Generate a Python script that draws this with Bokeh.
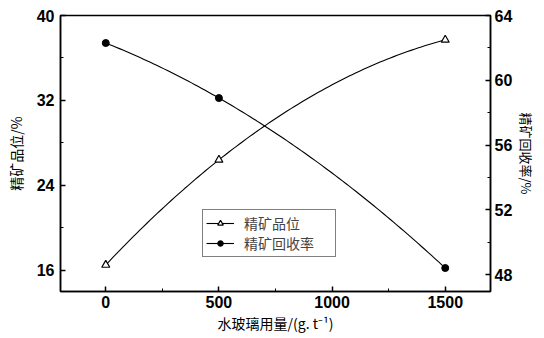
import numpy as np
from bokeh.plotting import figure
from bokeh.models import Range1d, LinearAxis, FixedTicker, Legend, LegendItem
from bokeh.embed import file_html
from bokeh.resources import INLINE

dosage = [0, 500, 1500]
grade = [16.5, 26.4, 37.7]
recovery = [62.3, 58.9, 48.4]
x_ticks = [0, 500, 1000, 1500]
left_ticks = [16, 24, 32, 40]
right_ticks = [48, 52, 56, 60, 64]

def smooth(xs, ys, n=100):
    # quadratic curve through the three points (drawing of spline connector)
    c = np.polyfit(xs, ys, 2)
    xx = np.linspace(min(xs), max(xs), n)
    return xx, np.polyval(c, xx)

p = figure(frame_width=430, frame_height=276, output_backend="svg", toolbar_location=None,
           x_range=Range1d(-200, 1700), y_range=Range1d(14, 40),
           min_border_left=60, min_border_right=40, min_border_top=15, min_border_bottom=40)
p.extra_y_ranges = {"rec": Range1d(46.95, 64)}
p.grid.visible = False
p.outline_line_color = "black"
p.outline_line_width = 1.5
p.background_fill_color = "white"
p.border_fill_color = "white"

ax_font = "Liberation Sans"
cjk = "Noto Sans CJK SC"

def style(ax, ticks, minor):
    ax.ticker = FixedTicker(ticks=ticks, minor_ticks=minor)
    ax.major_tick_in = 5
    ax.major_tick_out = 0
    ax.minor_tick_in = 3
    ax.minor_tick_out = 0
    ax.axis_line_width = 1.5
    ax.major_tick_line_width = 1.5
    ax.minor_tick_line_width = 1
    ax.major_label_text_font = ax_font
    ax.major_label_text_font_size = "16px"
    ax.major_label_text_font_style = "bold"
    ax.major_label_text_color = "black"
    ax.axis_label_text_font = cjk
    ax.axis_label_text_font_size = "14px"
    ax.axis_label_text_font_style = "normal"
    ax.axis_label_text_color = "black"

style(p.xaxis[0], x_ticks, [250, 750, 1250])
p.xaxis[0].axis_label = "水玻璃用量/(g. t⁻¹)"
p.xaxis[0].axis_label_text_font_size = "14px"
p.xaxis[0].major_label_standoff = 4
p.xaxis[0].axis_label_standoff = 2

style(p.yaxis[0], left_ticks, [20, 28, 36])
p.yaxis[0].axis_label = "精矿品位/%"
p.yaxis[0].major_label_standoff = 6
p.yaxis[0].axis_label_standoff = 8

rax = LinearAxis(y_range_name="rec")
style(rax, right_ticks, [50, 54, 58, 62])
rax.axis_label = "精矿回收率/%"
rax.axis_label_text_font_size = "13px"
rax.major_label_standoff = 4
rax.axis_label_standoff = 2
p.add_layout(rax, "right")

gx, gy = smooth(dosage, grade)
rx, ry = smooth(dosage, recovery)
l1 = p.line(gx, gy, line_color="black", line_width=1.1)
s1 = p.scatter(dosage, grade, marker="triangle", size=8, fill_color="white", line_color="black", line_width=1.2)
l2 = p.line(rx, ry, line_color="black", line_width=1.1, y_range_name="rec")
s2 = p.scatter(dosage, recovery, marker="circle", size=7, fill_color="black", line_color="black", y_range_name="rec")

legend = Legend(items=[LegendItem(label="精矿品位", renderers=[l1, s1]),
                       LegendItem(label="精矿回收率", renderers=[l2, s2])],
                location=(142, 34), label_text_font=cjk, label_text_font_size="14px",
                border_line_color="black", border_line_width=1.2, glyph_width=28,
                glyph_height=14, spacing=0, padding=3, margin=0, label_standoff=10,
                label_height=14, label_width=88, background_fill_alpha=1)
p.add_layout(legend, "center")

open("out.html", "w").write(file_html(p, INLINE))
